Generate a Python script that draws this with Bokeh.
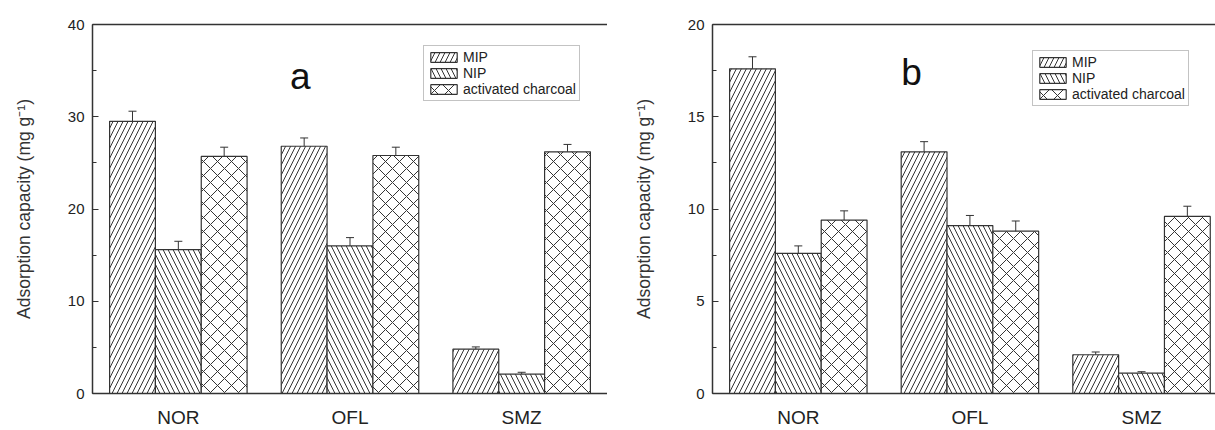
from bokeh.plotting import figure
from bokeh.layouts import row
from bokeh.models import (ColumnDataSource, Whisker, TeeHead, Legend, LegendItem,
                          LinearAxis, SingleIntervalTicker, FixedTicker, Range1d, Label)
from bokeh.embed import file_html
from bokeh.resources import INLINE

categories = ["NOR", "OFL", "SMZ"]
series = ["MIP", "NIP", "activated charcoal"]

# panel a
a_mip = [29.5, 26.8, 4.8]
a_mip_err = [1.1, 0.9, 0.25]
a_nip = [15.6, 16.0, 2.1]
a_nip_err = [0.9, 0.9, 0.2]
a_ac = [25.7, 25.8, 26.2]
a_ac_err = [1.0, 0.9, 0.8]

# panel b
b_mip = [17.6, 13.1, 2.1]
b_mip_err = [0.65, 0.55, 0.15]
b_nip = [7.6, 9.1, 1.1]
b_nip_err = [0.4, 0.55, 0.08]
b_ac = [9.4, 8.8, 9.6]
b_ac_err = [0.5, 0.55, 0.55]

y_label = "Adsorption capacity (mg g\u207b\u00b9)"
FONT = "Liberation Sans"
DARK = "#333333"
hatches = ["/", "\\", "x"]
hatch_scales = [10, 10, 14]
BW = 0.267


def panel(width, left, top, bottom, x_end, ymax, yint, vals, errs, letter, letter_xy, leg_xy):
    p = figure(width=width, height=430, output_backend="svg", toolbar_location=None,
               x_range=Range1d(0.5, x_end), y_range=Range1d(0, ymax),
               min_border_left=left, min_border_right=0, min_border_top=top,
               min_border_bottom=bottom)
    p.outline_line_color = None
    p.xgrid.visible = False
    p.ygrid.visible = False
    p.background_fill_color = "white"
    p.border_fill_color = "white"

    renderers = []
    for j in range(3):
        xs = [i + 1 + (j - 1) * BW for i in range(len(categories))]
        src = ColumnDataSource(dict(x=xs, top=vals[j],
                                    up=[v + e for v, e in zip(vals[j], errs[j])],
                                    lo=[v - e for v, e in zip(vals[j], errs[j])]))
        r = p.vbar(x="x", top="top", width=BW, bottom=0, source=src,
                   fill_color="white", line_color=DARK, line_width=1.2,
                   hatch_pattern=hatches[j], hatch_color=DARK, hatch_weight=1,
                   hatch_scale=hatch_scales[j])
        renderers.append(r)
        w = Whisker(base="x", upper="up", lower="lo", source=src,
                    line_color=DARK, line_width=1,
                    upper_head=TeeHead(size=8, line_color=DARK, line_width=1),
                    lower_head=TeeHead(size=8, line_color=DARK, line_width=1))
        p.add_layout(w)

    # axes
    p.xaxis.ticker = FixedTicker(ticks=[1, 2, 3])
    p.xaxis.major_label_overrides = {1: categories[0], 2: categories[1], 3: categories[2]}
    p.xaxis.major_tick_line_color = None
    p.xaxis.minor_tick_line_color = None
    p.xaxis.axis_line_color = DARK
    p.xaxis.axis_line_width = 1.5
    p.xaxis.major_label_text_font = FONT
    p.xaxis.major_label_text_font_size = "19px"
    p.xaxis.major_label_text_color = "#222222"
    p.xaxis.major_label_standoff = 7

    p.yaxis.ticker = SingleIntervalTicker(interval=yint, num_minor_ticks=2)
    p.yaxis.axis_line_color = DARK
    p.yaxis.axis_line_width = 1.5
    p.yaxis.major_tick_in = 6
    p.yaxis.major_tick_out = 0
    p.yaxis.minor_tick_in = 4
    p.yaxis.minor_tick_out = 0
    p.yaxis.major_tick_line_color = DARK
    p.yaxis.minor_tick_line_color = DARK
    p.yaxis.major_label_text_font = FONT
    p.yaxis.major_label_text_font_size = "15px"
    p.yaxis.major_label_text_color = "#222222"
    p.yaxis.major_label_standoff = 8
    p.yaxis.axis_label = y_label
    p.yaxis.axis_label_text_font = FONT
    p.yaxis.axis_label_text_font_size = "17.5px"
    p.yaxis.axis_label_text_font_style = "normal"
    p.yaxis.axis_label_text_color = DARK
    p.yaxis.axis_label_standoff = 31

    top_axis = LinearAxis(ticker=FixedTicker(ticks=[]), axis_line_color=DARK,
                          axis_line_width=1.5, major_tick_line_color=None,
                          minor_tick_line_color=None, major_label_text_font_size="0px")
    p.add_layout(top_axis, "above")

    lab = Label(x=letter_xy[0], y=letter_xy[1], text=letter, text_font=FONT,
                text_font_size="37px", text_color="#111111", text_align="center",
                text_baseline="middle")
    p.add_layout(lab)

    items = [LegendItem(label=series[j], renderers=[renderers[j]]) for j in range(3)]
    leg = Legend(items=items, location=leg_xy, glyph_width=33, glyph_height=12,
                 label_height=15, spacing=0, padding=3, margin=0, label_standoff=3,
                 label_text_font=FONT, label_text_font_size="14px",
                 label_text_color="#222222", border_line_color="#888888",
                 border_line_width=1, background_fill_color="white",
                 background_fill_alpha=1)
    p.add_layout(leg)
    return p


pa = panel(607, 92, 23, 29, 3.5, 40, 10, [a_mip, a_nip, a_ac], [a_mip_err, a_nip_err, a_ac_err],
           "a", (1.71, 34.4), (331, 292))
pb = panel(608, 105, 24, 27, 3.431, 20, 5, [b_mip, b_nip, b_ac], [b_mip_err, b_nip_err, b_ac_err],
           "b", (1.66, 17.4), (320, 287))

layout = row(pa, pb, spacing=0)
open("out.html", "w").write(file_html(layout, INLINE))
